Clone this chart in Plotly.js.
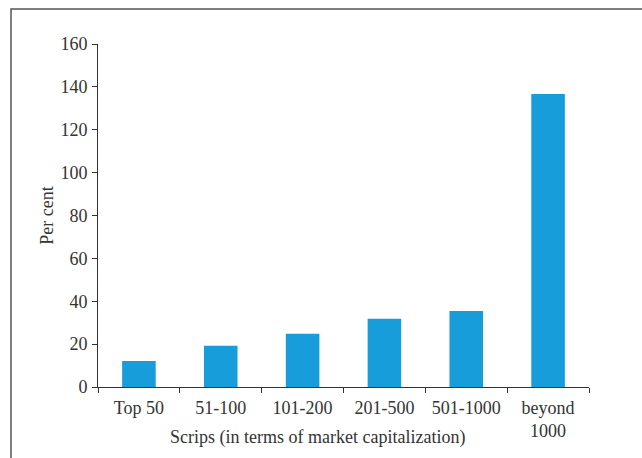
<!DOCTYPE html>
<html>
<head>
<meta charset="utf-8">
<script src="https://cdn.plot.ly/plotly-3.0.1.min.js"></script>
<style>html,body{margin:0;padding:0;background:#fff;}#chart{width:642px;height:458px;}</style>
</head>
<body>
<div id="chart"></div>
<script>
const categories = ["Top 50", "51-100", "101-200", "201-500", "501-1000", "beyond<br>1000"];
const perCent = [12.1, 19.2, 24.8, 31.8, 35.5, 136.7];
const yTicks = [0, 20, 40, 60, 80, 100, 120, 140, 160];
const xTitle = "Scrips (in terms of market capitalization)";
const yTitle = "Per cent";

const fontFam = "'Liberation Serif', 'DejaVu Serif', serif";
const axisColor = "#333333";
const fs = 18;

const trace = {
  type: "bar",
  x: categories,
  y: perCent,
  width: 0.41,
  marker: { color: "#179dd9", line: { width: 0 } },
  hoverinfo: "skip"
};

const L = 98, R = 53, T = 44, B = 71;
const pw = 642 - L - R, ph = 458 - T - B;

const layout = {
  width: 642,
  height: 458,
  margin: { l: L, r: R, t: T, b: B, pad: 0 },
  paper_bgcolor: "#ffffff",
  plot_bgcolor: "#ffffff",
  font: { family: fontFam, size: fs, color: axisColor },
  showlegend: false,
  xaxis: {
    type: "category",
    range: [-0.5, 5.5],
    showline: true,
    linecolor: axisColor,
    linewidth: 1,
    ticks: "outside",
    tickson: "boundaries",
    ticklen: 5,
    tickcolor: axisColor,
    tickwidth: 1,
    ticklabelstandoff: 4,
    showgrid: false,
    zeroline: false,
    tickfont: { family: fontFam, size: fs, color: axisColor },
    fixedrange: true
  },
  yaxis: {
    range: [0, 160],
    tickvals: yTicks,
    showline: true,
    linecolor: axisColor,
    linewidth: 1,
    ticks: "outside",
    ticklen: 5,
    tickcolor: axisColor,
    tickwidth: 1,
    ticklabelstandoff: 1,
    showgrid: false,
    zeroline: false,
    tickfont: { family: fontFam, size: fs, color: axisColor },
    title: { text: yTitle, font: { family: fontFam, size: fs, color: axisColor }, standoff: 2 },
    fixedrange: true
  },
  annotations: [
    {
      text: xTitle,
      xref: "paper", yref: "paper",
      x: (317 - L) / pw, y: (458 - B - 438) / ph,
      xanchor: "center", yanchor: "middle",
      showarrow: false,
      font: { family: fontFam, size: fs, color: axisColor }
    }
  ],
  shapes: [
    {
      type: "rect",
      xref: "paper", yref: "paper",
      x0: (11 - L) / pw, x1: (700 - L) / pw,
      y0: (458 - B - 500) / ph, y1: (458 - B - 9) / ph,
      line: { color: "#555555", width: 1.5 },
      fillcolor: "rgba(0,0,0,0)",
      layer: "below"
    }
  ]
};

Plotly.newPlot("chart", [trace], layout, { displayModeBar: false, staticPlot: true });
</script>
</body>
</html>
